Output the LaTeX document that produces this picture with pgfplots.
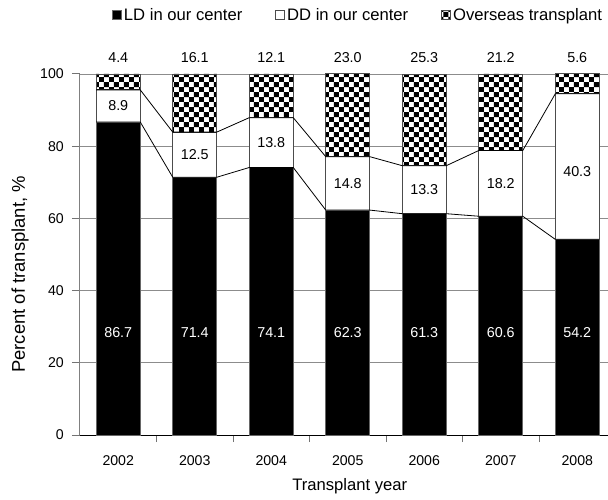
\documentclass[border=0pt]{standalone}
\usepackage{pgfplots}
\pgfplotsset{compat=1.18}
\usepackage{fontspec}
\setmainfont{Liberation Sans}
\usetikzlibrary{patterns}
\pgfdeclarepatternformonly{bigchecker}{\pgfpointorigin}{\pgfqpoint{10pt}{10pt}}{\pgfqpoint{10pt}{10pt}}{%
  \pgfpathrectangle{\pgfpointorigin}{\pgfqpoint{5pt}{5pt}}%
  \pgfpathrectangle{\pgfqpoint{5pt}{5pt}}{\pgfqpoint{5pt}{5pt}}%
  \pgfusepath{fill}}
\pgfplotsset{
  myleg/.style={legend image code/.code={\draw[##1] (0bp,-4.5bp) rectangle (9bp,4.5bp);}},
}
\begin{document}
\begin{tikzpicture}
\begin{axis}[
  scale only axis, width=528bp, height=361bp,
  xmin=-0.5, xmax=6.402, ymin=0, ymax=100,
  ybar stacked, bar width=44bp,
  axis x line*=bottom, axis y line*=left,
  x axis line style={black, line width=1bp},
  y axis line style={black!50, line width=1bp},
  xtick={0,1,2,3,4,5,6},
  xticklabels={2002,2003,2004,2005,2006,2007,2008},
  major x tick style={draw=none},
  minor xtick={0.5,1.5,2.5,3.5,4.5,5.5},
  minor tick length=7bp,
  minor x tick style={black!55, line width=1bp},
  ytick={0,20,40,60,80,100},
  major tick length=8bp,
  tick align=outside,
  major y tick style={black!55, line width=1bp},
  ymajorgrids,
  major grid style={black!45, line width=0.8bp},
  /pgf/number format/assume math mode=true,
  xticklabel style={font=\fontsize{14.2}{16}\selectfont, anchor=north, inner sep=0pt, yshift=-12bp},
  yticklabel style={font=\fontsize{14.2}{16}\selectfont, anchor=east, inner sep=0pt, xshift=-8bp},
  xlabel={Transplant year},
  ylabel={Percent of transplant, \%},
  xlabel style={font=\fontsize{16.7}{18}\selectfont, at={(axis description cs:0.511,-0.1524)}, anchor=base},
  ylabel style={font=\fontsize{18.5}{20}\selectfont, at={(axis description cs:-0.1136,0.445)}, anchor=center},
  legend style={at={(axis description cs:0.0606,1.1634)}, anchor=west, draw=none, fill=none,
    inner sep=0pt, font=\fontsize{16.7}{18}\selectfont, legend columns=3,
    /tikz/every even column/.append style={column sep=31bp}},
  legend cell align=left,
]
\addplot[myleg, fill=black, draw=black!60, line width=0.8bp] coordinates {(0,86.7) (1,71.4) (2,74.1) (3,62.3) (4,61.3) (5,60.6) (6,54.2)};
\addlegendentry{LD in our center}
\addplot[myleg, fill=white, draw=black!70, line width=0.8bp] coordinates {(0,8.9) (1,12.5) (2,13.8) (3,14.8) (4,13.3) (5,18.2) (6,40.3)};
\addlegendentry{DD in our center}
\addplot[myleg, fill=white, draw=black!70, line width=0.8bp, postaction={pattern=bigchecker}] coordinates {(0,4.4) (1,16.1) (2,12.1) (3,23.0) (4,25.3) (5,21.2) (6,5.6)};
\addlegendentry{Overseas transplant}
\end{axis}
\begin{axis}[
  scale only axis, width=528bp, height=361bp,
  xmin=-0.5, xmax=6.402, ymin=0, ymax=100,
  hide axis, clip=false,
]
\addplot[black, line width=0.8bp, mark=none] coordinates {(-0.2876,86.7) (0.2876,86.7) (0.7124,71.4) (1.2876,71.4) (1.7124,74.1) (2.2876,74.1) (2.7124,62.3) (3.2876,62.3) (3.7124,61.3) (4.2876,61.3) (4.7124,60.6) (5.2876,60.6) (5.7124,54.2) (6.2876,54.2)};
\addplot[black, line width=0.8bp, mark=none] coordinates {(-0.2876,95.6) (0.2876,95.6) (0.7124,83.9) (1.2876,83.9) (1.7124,87.9) (2.2876,87.9) (2.7124,77.1) (3.2876,77.1) (3.7124,74.6) (4.2876,74.6) (4.7124,78.8) (5.2876,78.8) (5.7124,94.5) (6.2876,94.5)};
\addplot[draw=none, mark=none, nodes near coords, point meta=explicit symbolic,
  every node near coord/.append style={anchor=center, white, font=\fontsize{14.4}{16}\selectfont}]
  coordinates {(0,28.5)[86.7] (1,28.5)[71.4] (2,28.5)[74.1] (3,28.5)[62.3] (4,28.5)[61.3] (5,28.5)[60.6] (6,28.5)[54.2]};
\addplot[draw=none, mark=none, nodes near coords, point meta=explicit symbolic,
  every node near coord/.append style={anchor=center, black, font=\fontsize{14.4}{16}\selectfont}]
  coordinates {(0,91.15)[8.9] (1,77.65)[12.5] (2,81.0)[13.8] (3,69.7)[14.8] (4,67.95)[13.3] (5,69.7)[18.2] (6,73.0)[40.3]};
\addplot[draw=none, mark=none, nodes near coords, point meta=explicit symbolic,
  every node near coord/.append style={anchor=center, black, font=\fontsize{14.4}{16}\selectfont}]
  coordinates {(0,104.6)[4.4] (1,104.6)[16.1] (2,104.6)[12.1] (3,104.6)[23.0] (4,104.6)[25.3] (5,104.6)[21.2] (6,104.6)[5.6]};
\end{axis}
\pgfresetboundingbox
\useasboundingbox (-80bp,-65bp) rectangle (528bp,435bp);
\end{tikzpicture}
\end{document}
